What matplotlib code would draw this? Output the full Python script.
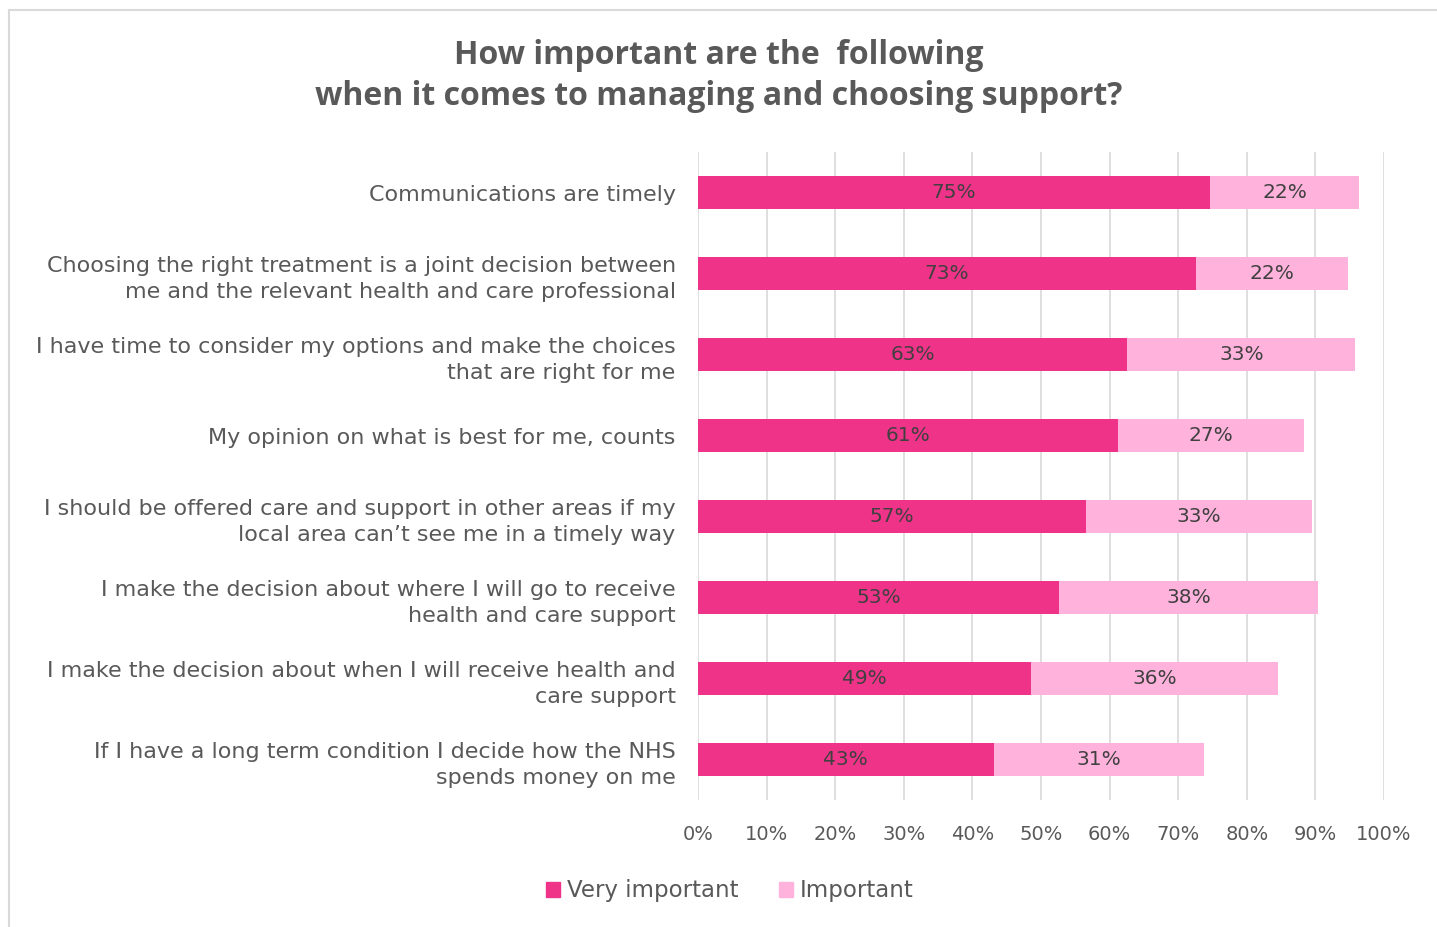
import matplotlib.pyplot as plt
import matplotlib.patches as mpatches
import numpy as np

categories = [
    "Communications are timely",
    "Choosing the right treatment is a joint decision between\nme and the relevant health and care professional",
    "I have time to consider my options and make the choices\nthat are right for me",
    "My opinion on what is best for me, counts",
    "I should be offered care and support in other areas if my\nlocal area can\u2019t see me in a timely way",
    "I make the decision about where I will go to receive\nhealth and care support",
    "I make the decision about when I will receive health and\ncare support",
    "If I have a long term condition I decide how the NHS\nspends money on me",
]
very_important = [74.6, 72.6, 62.6, 61.2, 56.6, 52.6, 48.6, 43.1]
important = [21.8, 22.2, 33.2, 27.1, 32.9, 37.8, 35.9, 30.6]
ticks = list(range(0, 101, 10))

dark = '#EE3388'
light = '#FFB3DC'
text_grey = '#595959'

fig = plt.figure(figsize=(14.37, 9.27), dpi=100)
ax = fig.add_axes([0.4857, 0.137, 0.4774, 0.699])

y = np.arange(len(categories))
ax.barh(y, very_important, height=0.4, color=dark, zorder=3)
ax.barh(y, important, left=very_important, height=0.4, color=light, zorder=3)

for i in range(len(categories)):
    ax.text(very_important[i] / 2, y[i], f"{round(very_important[i])}%",
            ha='center', va='center', fontsize=14.5, color='#404040', zorder=4)
    ax.text(very_important[i] + important[i] / 2, y[i], f"{round(important[i])}%",
            ha='center', va='center', fontsize=14.5, color='#404040', zorder=4)

ax.set_xlim(0, 100)
ax.set_ylim(len(categories) - 0.5, -0.5)
ax.set_xticks(ticks)
ax.set_xticklabels([f"{t}%" for t in ticks], fontsize=14, color=text_grey)
ax.set_yticks(y)
ax.set_yticklabels(categories, fontsize=16, color=text_grey, linespacing=1.4)
ax.tick_params(axis='both', length=0)
ax.tick_params(axis='x', pad=18)
ax.tick_params(axis='y', pad=16)
ax.grid(axis='x', color='#D9D9D9', linewidth=1.2, zorder=0)
for s in ax.spines.values():
    s.set_visible(False)

fig.text(0.5, 0.918, "How important are the  following\nwhen it comes to managing and choosing support?",
         ha='center', va='center', fontsize=23, fontweight='bold', color=text_grey,
         family='Open Sans', linespacing=1.35)

handles = [mpatches.Patch(color=dark, label='Very important'),
           mpatches.Patch(color=light, label='Important')]
fig.legend(handles=handles, loc='center', bbox_to_anchor=(0.508, 0.039), ncol=2,
           frameon=False, fontsize=16.5, handlelength=0.6, handleheight=0.6,
           handletextpad=0.3, columnspacing=1.8, labelcolor=text_grey)

fig.patches.append(mpatches.Rectangle((0.006, -0.01), 1.1, 0.999, transform=fig.transFigure,
                                      fill=False, edgecolor='#D9D9D9', linewidth=1.5))

fig.savefig('out.png', dpi=100)
